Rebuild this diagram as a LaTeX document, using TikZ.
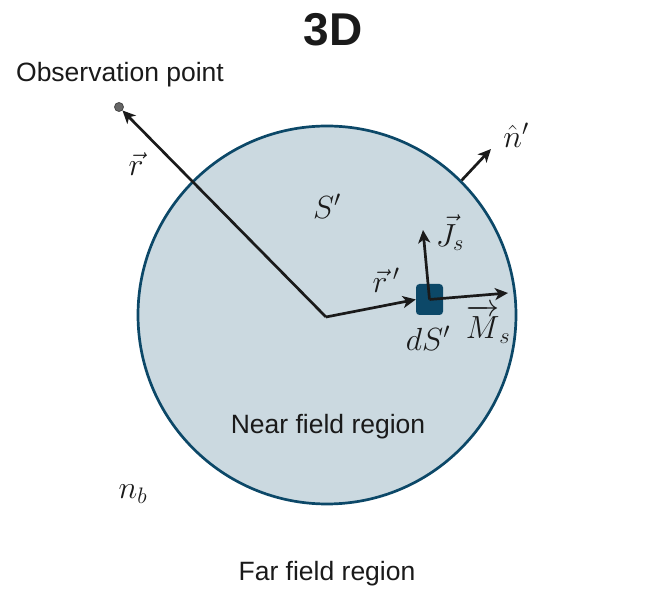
\documentclass[tikz,border=0pt]{standalone}
\usepackage{fix-cm}
\usepackage{amsmath}
\usepackage{fontspec}
\setmainfont{Liberation Sans}
\usetikzlibrary{arrows.meta}
\definecolor{fillc}{HTML}{CBD9E0}
\definecolor{edgec}{HTML}{0C4868}
\definecolor{inkc}{HTML}{1A1A1A}
\tikzset{
  vecarrow/.style={draw=inkc, line width=2.7pt, -{Stealth[length=13pt,width=12pt,inset=3.5pt]}},
  txt/.style={font=\fontsize{26.5}{30}\selectfont, text=inkc},
  mlab/.style={font=\fontsize{32}{36}\selectfont, text=inkc, inner sep=1pt},
}
\begin{document}
\begin{tikzpicture}[x=1pt,y=-1pt]
\useasboundingbox (0,0) rectangle (649,593);
\node[circle, minimum size=378pt, inner sep=0pt, fill=fillc, draw=edgec, line width=2.7pt] (S) at (327,315) {};
\coordinate (O) at (326,317);
\node[circle, minimum size=9pt, inner sep=0pt, fill=gray!80!black, draw=inkc!80, line width=0.8pt] (P) at (119,107) {};
\node[rectangle, rounded corners=3.5pt, minimum width=27pt, minimum height=31pt, inner sep=0pt, fill=edgec] (dS) at (429.5,299.5) {};
\coordinate (J) at (423,230);
\coordinate (M) at (508,293);
\coordinate (N) at (491,149);
\draw[vecarrow] (O) -- (P.south east);
\draw[vecarrow] (O) -- (dS.west);
\draw[vecarrow] (dS.center) -- (J);
\draw[vecarrow] (dS.center) -- (M);
\draw[vecarrow] (S.45.5) -- (N);
\node[font=\bfseries\fontsize{46}{50}\selectfont, text=inkc] (title) at (333,30) {3D};
\node[txt] (obs) at (120,75) {Observation point};
\node[txt] (near) at (328,427) {Near field region};
\node[txt] (far) at (327,574) {Far field region};
\node[mlab] (lr) at (136,164) {$\vec{r}$};
\node[mlab] (lS) at (327,206) {$S'$};
\node[mlab] (lJ) at (450,233) {$\vec{J}_s$};
\node[mlab] (lrp) at (386,280) {$\vec{r}\,'$};
\node[mlab] (ldS) at (428,338) {$dS'$};
\node[mlab] (lM) at (488,324) {$\overrightarrow{M}_s$};
\node[mlab] (ln) at (516,135) {$\hat{n}'$};
\node[mlab] (lnb) at (133,494) {$n_b$};
\end{tikzpicture}
\end{document}
